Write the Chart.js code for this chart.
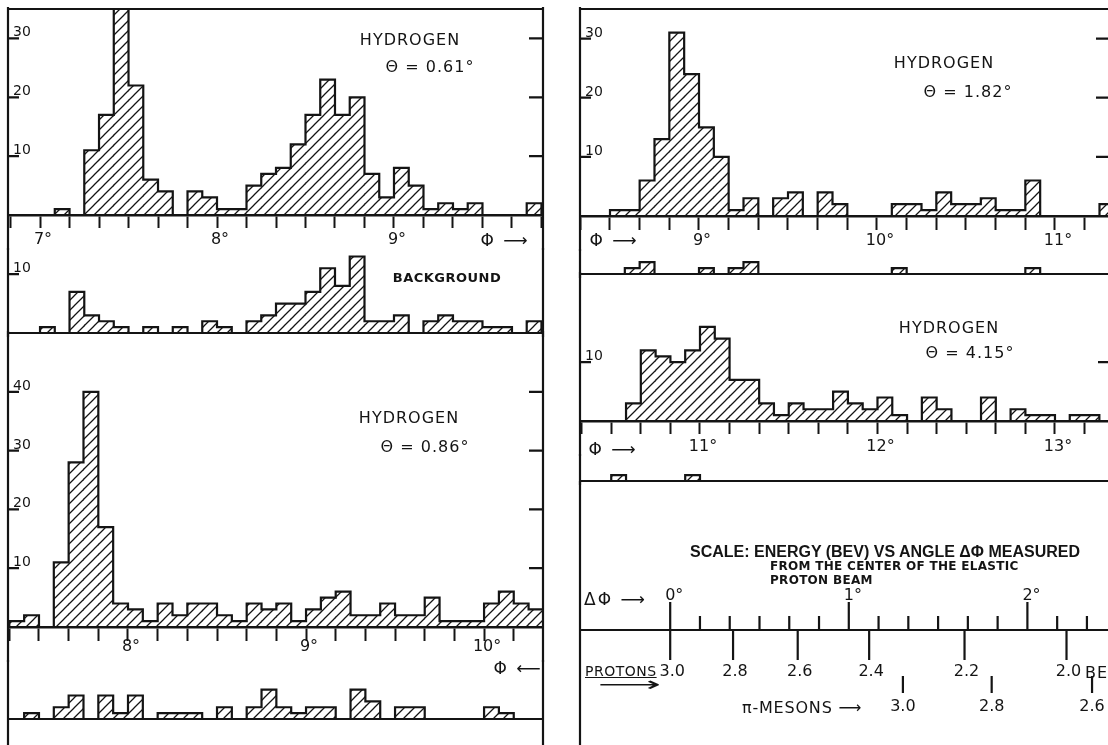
<!DOCTYPE html>
<html>
<head>
<meta charset="utf-8">
<script src="https://cdn.jsdelivr.net/npm/chart.js@4.4.0/dist/chart.umd.min.js"></script>
<style>
  body { margin: 0; background: #fff; width: 1108px; height: 745px; overflow: hidden; position: relative; }
  canvas { position: absolute; }
  .note { position: absolute; transform: translate(-50%, -50%); line-height: 1; white-space: nowrap;
          font: 16px "DejaVu Sans", sans-serif; letter-spacing: 1px; color: #141414; }
  .left { transform: translate(0, -50%); }
</style>
</head>
<body>
<canvas id="cA"></canvas>
<canvas id="cBgA"></canvas>
<canvas id="cC"></canvas>
<canvas id="cBgC"></canvas>
<canvas id="cB"></canvas>
<canvas id="cBgB"></canvas>
<canvas id="cD"></canvas>
<canvas id="cBgD"></canvas>
<canvas id="cScale"></canvas>

<script>
const INK = '#141414';
const BIN = 1 / 12;   // bin width in degrees of phi

// hydrogen, theta = 0.61 deg  (bins start at 7.0 deg)
const startA = 7.0;
const countsA = [0, 1, 0, 11, 17, 36, 22, 6, 4, 0, 4, 3, 1, 1, 5, 7, 8, 12, 17, 23, 17, 20, 7, 3, 8, 5, 1, 2, 1, 2, 0, 0, 0, 2];
const backA   = [1, 0, 7, 3, 2, 1, 0, 1, 0, 1, 0, 2, 1, 0, 2, 3, 5, 5, 7, 11, 8, 13, 2, 2, 3, 0, 2, 3, 2, 2, 1, 1, 0, 2];
const degLabelsA = [7, 8, 9];

// hydrogen, theta = 0.86 deg  (bins start at 7 1/3 deg)
const startC = 7 + 4 / 12;
const countsC = [1, 2, 0, 11, 28, 40, 17, 4, 3, 1, 4, 2, 4, 4, 2, 1, 4, 3, 4, 1, 3, 5, 6, 2, 2, 4, 2, 2, 5, 1, 1, 1, 4, 6, 4, 3];
const backC   = [0, 1, 0, 2, 4, 0, 4, 1, 4, 0, 1, 1, 1, 0, 2, 0, 2, 5, 2, 1, 2, 2, 0, 5, 3, 0, 2, 2, 0, 0, 0, 0, 2, 1, 0, 0];
const degLabelsC = [8, 9, 10];

// hydrogen, theta = 1.82 deg  (bins start at 8.5 deg)
const startB = 8.5;
const countsB = [1, 1, 6, 13, 31, 24, 15, 10, 1, 3, 0, 3, 4, 0, 4, 2, 0, 0, 0, 2, 2, 1, 4, 2, 2, 3, 1, 1, 6, 0, 0, 0, 0, 2];
const backB   = [0, 1, 2, 0, 0, 0, 1, 0, 1, 2, 0, 0, 0, 0, 0, 0, 0, 0, 0, 1, 0, 0, 0, 0, 0, 0, 0, 0, 1];
const degLabelsB = [9, 10, 11];

// hydrogen, theta = 4.15 deg  (bins start at 10.5 deg)
const startD = 10.5;
const countsD = [0, 3, 12, 11, 10, 12, 16, 14, 7, 7, 3, 1, 3, 2, 2, 5, 3, 2, 4, 1, 0, 4, 2, 0, 0, 4, 0, 2, 1, 1, 0, 1, 1, 0];
const backD   = [1, 0, 0, 0, 0, 1];
const degLabelsD = [11, 12, 13];

// energy scale vs delta phi
const dphiLabels = [0, 1, 2];
const protonE   = ['3.0', '2.8', '2.6', '2.4', '2.2', '2.0'];
const protonPhi = [0, 0.352, 0.714, 1.114, 1.648, 2.219];
const pionE     = ['3.0', '2.8', '2.6'];
const pionPhi   = [1.303, 1.80, 2.362];

function hatchTile() {
  const c = document.createElement('canvas');
  c.width = c.height = 10;
  const g = c.getContext('2d');
  g.strokeStyle = INK;
  g.lineWidth = 1.25;
  g.beginPath();
  g.moveTo(0, 10); g.lineTo(10, 0);
  g.moveTo(-1, 1); g.lineTo(1, -1);
  g.moveTo(9, 11); g.lineTo(11, 9);
  g.stroke();
  return c;
}
const tile = hatchTile();

// frame lines and the small count ticks on both sides
const frame = {
  id: 'frame',
  afterDraw(chart, args, o) {
    const { ctx, chartArea: a, scales: { y } } = chart;
    ctx.save();
    ctx.strokeStyle = INK;
    ctx.fillStyle = INK;
    ctx.lineWidth = 2.2;
    ctx.beginPath();
    ctx.moveTo(a.left, a.top - 2); ctx.lineTo(a.left, chart.height);
    ctx.moveTo(a.right, a.top - 2); ctx.lineTo(a.right, chart.height);
    if (o.top) { ctx.moveTo(a.left - 1, a.top); ctx.lineTo(a.right + 1, a.top); }
    if (o.base) { ctx.moveTo(a.left, a.bottom); ctx.lineTo(a.right, a.bottom); }
    (o.left || []).forEach(v => {
      const py = y.getPixelForValue(v);
      ctx.moveTo(a.left, py); ctx.lineTo(a.left + 11, py);
    });
    (o.right || []).forEach(v => {
      const py = y.getPixelForValue(v);
      ctx.moveTo(a.right - o.rightLen, py); ctx.lineTo(a.right, py);
    });
    ctx.stroke();
    ctx.font = '14px "DejaVu Sans"';
    ctx.textBaseline = 'alphabetic';
    (o.left || []).forEach(v => ctx.fillText(String(v), a.left + 5, y.getPixelForValue(v) - 2));
    ctx.restore();
  }
};

function histPanel(id, p) {
  const cv = document.getElementById(id);
  const axisH = p.labels ? 35 : 0;
  const below = p.below || 0;
  cv.width = p.x1 - p.x0 + 8;
  cv.height = p.y1 - p.y0 + 4 + (axisH || 4) + below;
  cv.style.left = (p.x0 - 4) + 'px';
  cv.style.top = (p.y0 - 4) + 'px';
  const pattern = cv.getContext('2d').createPattern(tile, 'repeat');

  const bars = p.counts.map((c, i) => ({ x: p.start + (i + 0.5) * BIN, y: c }));
  const outline = [{ x: p.start, y: 0 }]
    .concat(p.counts.map((c, i) => ({ x: p.start + (i + 1) * BIN, y: c })))
    .concat([{ x: p.start + p.counts.length * BIN, y: 0 }]);

  new Chart(cv, {
    type: 'bar',
    data: {
      datasets: [
        { type: 'line', data: outline, stepped: 'after', borderColor: INK, borderWidth: 2.2,
          pointRadius: 0, fill: false, order: 0 },
        { type: 'bar', data: bars, backgroundColor: pattern, borderWidth: 0,
          barPercentage: 1, categoryPercentage: 1, grouped: false, order: 1 }
      ]
    },
    options: {
      responsive: false,
      animation: false,
      events: [],
      layout: { padding: { left: 4, right: 4, top: 4, bottom: (axisH ? 0 : 4) + below } },
      plugins: {
        legend: { display: false },
        tooltip: { enabled: false },
        frame: { top: p.top, base: !axisH, left: p.left, right: p.right, rightLen: p.rightLen || 14 }
      },
      scales: {
        x: {
          type: 'linear',
          min: p.xMin,
          max: p.xMax,
          offset: false,
          display: !!axisH,
          afterBuildTicks: s => {
            const t = [];
            for (let i = Math.ceil(s.min * 6 - 1e-6); i <= Math.floor(s.max * 6 + 1e-6); i++) t.push({ value: i / 6 });
            s.ticks = t;
          },
          afterFit: s => { s.height = axisH; },
          grid: { offset: false, drawOnChartArea: false, drawTicks: true, tickLength: p.tickLen || 13,
                  tickWidth: 2, tickColor: INK },
          border: { display: true, color: INK, width: 2.5 },
          ticks: {
            autoSkip: false, maxRotation: 0, padding: p.pad || 0, labelOffset: 3,
            color: INK, font: { family: 'DejaVu Sans', size: 16 },
            callback: v => {
              const r = Math.round(v);
              return Math.abs(v - r) < 1e-6 && (p.labels || []).includes(r) ? r + '°' : '';
            }
          }
        },
        y: { display: false, min: 0, max: p.yMax }
      }
    },
    plugins: [frame]
  });
}

// the right-hand frame line sits just past the picture edge
const xA = [6.819, 9.842], xC = [7.326, 10.331], xB = [8.3315, 11.309], xD = [10.324, 13.31];
const RX = 1110;

histPanel('cA',   { x0: 8, x1: 543, y0: 9, y1: 215, top: true, xMin: xA[0], xMax: xA[1], yMax: 35,
                    start: startA, counts: countsA, left: [10, 20, 30], right: [10, 20, 30],
                    labels: degLabelsA, tickLen: 13, pad: 2 });
histPanel('cBgA', { x0: 8, x1: 543, y0: 250, y1: 333, xMin: xA[0], xMax: xA[1], yMax: 14.1,
                    start: startA, counts: backA, left: [10] });
histPanel('cC',   { x0: 8, x1: 543, y0: 333, y1: 627, xMin: xC[0], xMax: xC[1], yMax: 50,
                    start: startC, counts: countsC, left: [10, 20, 30, 40], right: [10, 20, 30, 40],
                    labels: degLabelsC, tickLen: 14, pad: -4 });
histPanel('cBgC', { x0: 8, x1: 543, y0: 662, y1: 719, below: 30, xMin: xC[0], xMax: xC[1], yMax: 9.7,
                    start: startC, counts: backC });
histPanel('cB',   { x0: 580, x1: RX, y0: 9, y1: 216, top: true, xMin: xB[0], xMax: xB[1], yMax: 35,
                    start: startB, counts: countsB, left: [10, 20, 30], right: [10, 20, 30], rightLen: 14,
                    labels: degLabelsB, tickLen: 14, pad: 1 });
histPanel('cBgB', { x0: 580, x1: RX, y0: 251, y1: 274, xMin: xB[0], xMax: xB[1], yMax: 3.9,
                    start: startB, counts: backB });
histPanel('cD',   { x0: 580, x1: RX, y0: 274, y1: 421, xMin: xD[0], xMax: xD[1], yMax: 25,
                    start: startD, counts: countsD, left: [10], right: [10], rightLen: 12,
                    labels: degLabelsD, tickLen: 13, pad: 3 });
histPanel('cBgD', { x0: 580, x1: RX, y0: 456, y1: 481, xMin: xD[0], xMax: xD[1], yMax: 4.25,
                    start: startD, counts: backD });

// energy scale panel
const energyScale = {
  id: 'energyScale',
  afterDraw(chart) {
    const { ctx, chartArea: a, scales: { x } } = chart;
    const lineY = a.top + 149;
    ctx.save();
    ctx.strokeStyle = INK;
    ctx.fillStyle = INK;
    ctx.lineWidth = 2.2;
    ctx.beginPath();
    ctx.moveTo(a.left, a.top); ctx.lineTo(a.left, chart.height);
    ctx.moveTo(a.right, a.top); ctx.lineTo(a.right, chart.height);
    ctx.moveTo(a.left, lineY); ctx.lineTo(a.right, lineY);
    for (let i = 1; i <= Math.floor(x.max * 6); i++) {
      if (i % 6 === 0) continue;
      const px = x.getPixelForValue(i / 6);
      ctx.moveTo(px, lineY); ctx.lineTo(px, lineY - 14);
    }
    dphiLabels.forEach(v => { const px = x.getPixelForValue(v); ctx.moveTo(px, lineY); ctx.lineTo(px, lineY - 28); });
    protonPhi.forEach(v => { const px = x.getPixelForValue(v); ctx.moveTo(px, lineY); ctx.lineTo(px, lineY + 30); });
    pionPhi.forEach(v => { const px = x.getPixelForValue(v); ctx.moveTo(px, lineY + 46); ctx.lineTo(px, lineY + 63); });
    ctx.stroke();

    ctx.font = '16px "DejaVu Sans"';
    ctx.textBaseline = 'bottom';
    ctx.textAlign = 'left';
    dphiLabels.forEach(v => ctx.fillText(v + '°', x.getPixelForValue(v) - 5, lineY - 26));
    ctx.textAlign = 'center';
    ctx.textBaseline = 'middle';
    protonPhi.forEach((v, i) => ctx.fillText(protonE[i], x.getPixelForValue(v) + 2, lineY + 42));
    pionPhi.forEach((v, i) => ctx.fillText(pionE[i], x.getPixelForValue(v), lineY + 77));
    ctx.restore();
  }
};

(function () {
  const cv = document.getElementById('cScale');
  cv.width = RX - 580 + 8;
  cv.height = 745 - 481 + 8;
  cv.style.left = '576px';
  cv.style.top = '477px';
  new Chart(cv, {
    type: 'scatter',
    data: { datasets: [{ data: [] }] },
    options: {
      responsive: false, animation: false, events: [],
      layout: { padding: 4 },
      plugins: { legend: { display: false }, tooltip: { enabled: false } },
      scales: {
        x: { type: 'linear', min: -0.505, max: 2.4625, display: false },
        y: { min: 0, max: 1, display: false }
      }
    },
    plugins: [energyScale]
  });
})();

// lettering
const PHI = 'font-size:17px;letter-spacing:2px';
const notes = [
  ['HYDROGEN', 410, 39], ['Θ = 0.61°', 430, 66],
  ['BACKGROUND', 447, 277, 'font-weight:bold;font-size:13px;letter-spacing:0.5px'],
  ['HYDROGEN', 409, 417], ['Θ = 0.86°', 425, 446],
  ['HYDROGEN', 944, 62], ['Θ = 1.82°', 968, 91],
  ['HYDROGEN', 949, 327], ['Θ = 4.15°', 970, 352],
  ['Φ ⟶', 505, 240, PHI], ['Φ ⟶', 614, 240, PHI], ['Φ ⟶', 613, 449, PHI], ['Φ ⟵', 518, 668, PHI]
];
const leftNotes = [
  ['SCALE: ENERGY (BEV)  VS  ANGLE ΔΦ MEASURED', 690, 552, 'font:bold 16px "Liberation Sans";letter-spacing:0'],
  ['FROM THE CENTER OF THE ELASTIC', 770, 566, 'font:bold 12px "DejaVu Sans";letter-spacing:0.3px'],
  ['PROTON BEAM', 770, 580, 'font:bold 12px "DejaVu Sans";letter-spacing:0.3px'],
  ['ΔΦ ⟶', 584, 599, PHI],
  ['PROTONS', 585, 671, 'font-size:14px;letter-spacing:0.5px;text-decoration:underline'],
  ['⟶', 598, 684, 'font-size:20px;letter-spacing:0;transform:translate(0,-50%) scaleX(2.2);transform-origin:left'],
  ['BEV', 1085, 672],
  ['π-MESONS ⟶', 742, 707, 'letter-spacing:0.8px']
];
notes.forEach(([t, x, y, s]) => addNote(t, x, y, s, false));
leftNotes.forEach(([t, x, y, s]) => addNote(t, x, y, s, true));

function addNote(text, x, y, style, left) {
  const d = document.createElement('div');
  d.className = left ? 'note left' : 'note';
  d.textContent = text;
  d.style.left = x + 'px';
  d.style.top = y + 'px';
  if (style) d.style.cssText += ';' + style;
  document.body.appendChild(d);
}
</script>
</body>
</html>
